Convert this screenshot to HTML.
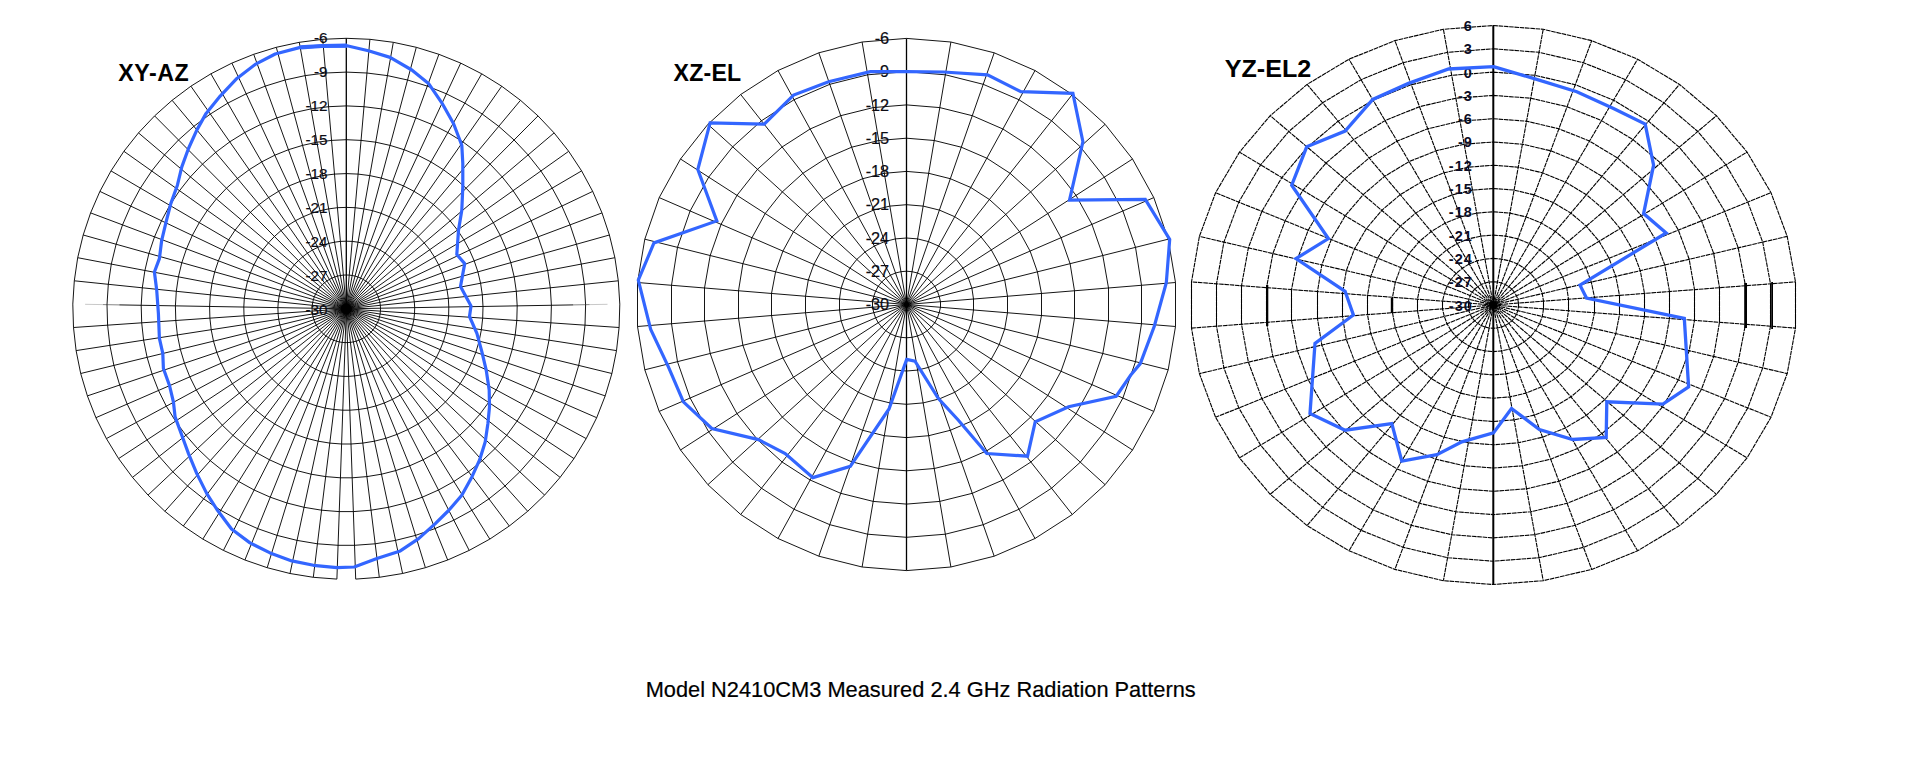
<!DOCTYPE html>
<html lang="en">
<head>
<meta charset="utf-8">
<title>Model N2410CM3 Measured 2.4 GHz Radiation Patterns</title>
<style>
html,body{margin:0;padding:0;background:#fff;}
body{width:1914px;height:773px;overflow:hidden;}
svg{display:block;}
svg text{font-family:"Liberation Sans",sans-serif;}
</style>
</head>
<body>
<svg width="1914" height="773" viewBox="0 0 1914 773">
<rect width="1914" height="773" fill="#fff"/>
<path d="M346.3 308.8L369.9 39.3M346.3 308.8L393.3 42.3M346.3 308.8L416.3 47.3M346.3 308.8L438.9 54.3M346.3 308.8L460.7 63.1M346.3 308.8L481.7 73.8M346.3 308.8L501.7 86.2M346.3 308.8L520.5 100.3M346.3 308.8L538 115.9M346.3 308.8L554.1 132.9M346.3 308.8L568.7 151.3M346.3 308.8L581.6 170.9M346.3 308.8L592.7 191.4M346.3 308.8L602 212.9M346.3 308.8L609.4 235M346.3 308.8L614.9 257.7M346.3 308.8L618.3 280.8M346.3 308.8L619.1 327.5M346.3 308.8L616.5 350.6M346.3 308.8L611.9 373.5M346.3 308.8L605.2 395.9M346.3 308.8L596.7 417.7M346.3 308.8L586.2 438.6M346.3 308.8L574 458.6M346.3 308.8L560.1 477.4M346.3 308.8L544.6 495.1M346.3 308.8L527.7 511.3M346.3 308.8L509.3 526M346.3 308.8L489.8 539.1M346.3 308.8L469.2 550.4M346.3 308.8L447.7 560M346.3 308.8L425.4 567.7M346.3 308.8L402.6 573.5M346.3 308.8L379.3 577.3M346.3 308.8L355.7 579.1M346.3 308.8L336.9 579.1M346.3 308.8L313.3 577.3M346.3 308.8L290 573.5M346.3 308.8L267.2 567.7M346.3 308.8L244.9 560M346.3 308.8L223.4 550.4M346.3 308.8L202.8 539.1M346.3 308.8L183.3 526M346.3 308.8L164.9 511.3M346.3 308.8L148 495.1M346.3 308.8L132.5 477.4M346.3 308.8L118.6 458.6M346.3 308.8L106.4 438.6M346.3 308.8L95.9 417.7M346.3 308.8L87.4 395.9M346.3 308.8L80.7 373.5M346.3 308.8L76.1 350.6M346.3 308.8L73.5 327.5M346.3 308.8L74.3 280.8M346.3 308.8L77.7 257.7M346.3 308.8L83.2 235M346.3 308.8L90.6 212.9M346.3 308.8L99.9 191.4M346.3 308.8L111 170.9M346.3 308.8L123.9 151.3M346.3 308.8L138.5 132.9M346.3 308.8L154.6 115.9M346.3 308.8L172.1 100.3M346.3 308.8L190.9 86.2M346.3 308.8L210.9 73.8M346.3 308.8L231.9 63.1M346.3 308.8L253.7 54.3M346.3 308.8L276.3 47.3M346.3 308.8L299.3 42.3M346.3 308.8L322.7 39.3" stroke="#000" stroke-width="0.92" fill="none"/>
<path d="M346.3 308.8L573.3 304.9" stroke="#000" stroke-width="0.92"/>
<path d="M573.3 304.9L589.7 304.6" stroke="#666" stroke-width="0.8"/>
<path d="M589.7 304.6L607.5 304.3" stroke="#b0b0b0" stroke-width="0.7"/>
<path d="M346.3 308.8L119.3 304.9" stroke="#000" stroke-width="0.92"/>
<path d="M119.3 304.9L102.9 304.6" stroke="#666" stroke-width="0.8"/>
<path d="M102.9 304.6L85.1 304.3" stroke="#b0b0b0" stroke-width="0.7"/>
<path d="M346.3 275L349.2 275.1L352.2 275.5L355.1 276.1L357.9 277L360.6 278.1L363.2 279.4L365.7 281L368.1 282.7L370.3 284.7L372.3 286.8L374.1 289.1L375.7 291.6L377.1 294.1L378.3 296.8L379.2 299.6L379.9 302.4L380.3 305.3L380.5 308.2L380.4 311.1L380.1 314L379.5 316.9L378.7 319.7L377.6 322.4L376.3 325L374.8 327.5L373 329.9L371.1 332.1L369 334.1L366.7 335.9L364.2 337.6L361.7 339L359 340.2L356.2 341.2L353.3 341.9L350.4 342.4L347.5 342.6L345.1 342.6L342.2 342.4L339.3 341.9L336.4 341.2L333.6 340.2L330.9 339L328.4 337.6L325.9 335.9L323.6 334.1L321.5 332.1L319.6 329.9L317.8 327.5L316.3 325L315 322.4L313.9 319.7L313.1 316.9L312.5 314L312.2 311.1L312.1 308.2L312.3 305.3L312.7 302.4L313.4 299.6L314.3 296.8L315.5 294.1L316.9 291.6L318.5 289.1L320.3 286.8L322.3 284.7L324.5 282.7L326.9 281L329.4 279.4L332 278.1L334.7 277L337.5 276.1L340.4 275.5L343.4 275.1ZM346.3 241.2L352.2 241.4L358 242.2L363.8 243.4L369.4 245.2L374.9 247.4L380.1 250L385.1 253.1L389.8 256.7L394.2 260.6L398.3 264.8L401.9 269.4L405.1 274.3L407.9 279.5L410.2 284.8L412.1 290.4L413.4 296L414.3 301.8L414.7 307.6L414.5 313.5L413.9 319.3L412.7 325L411 330.6L408.9 336L406.3 341.3L403.2 346.2L399.8 351L395.9 355.4L391.6 359.4L387.1 363.1L382.2 366.4L377 369.2L371.6 371.6L366.1 373.5L360.4 375L354.5 375.9L348.7 376.4L343.9 376.4L338.1 375.9L332.2 375L326.5 373.5L321 371.6L315.6 369.2L310.4 366.4L305.5 363.1L301 359.4L296.7 355.4L292.8 351L289.4 346.2L286.3 341.3L283.7 336L281.6 330.6L279.9 325L278.7 319.3L278.1 313.5L277.9 307.6L278.3 301.8L279.2 296L280.5 290.4L282.4 284.8L284.7 279.5L287.5 274.3L290.7 269.4L294.3 264.8L298.4 260.6L302.8 256.7L307.5 253.1L312.5 250L317.7 247.4L323.2 245.2L328.8 243.4L334.6 242.2L340.4 241.4ZM346.3 207.4L355.1 207.7L363.9 208.9L372.6 210.7L381 213.3L389.2 216.7L397.1 220.7L404.6 225.3L411.6 230.6L418.2 236.5L424.2 242.9L429.7 249.7L434.5 257.1L438.7 264.8L442.2 272.8L445 281.1L447 289.7L448.3 298.3L448.8 307L448.6 315.8L447.6 324.5L445.9 333.1L443.4 341.5L440.2 349.6L436.3 357.5L431.7 365L426.5 372L420.7 378.6L414.3 384.7L407.4 390.2L400.1 395.2L392.4 399.4L384.3 403L376 405.9L367.4 408.1L358.7 409.5L349.8 410.2L342.8 410.2L333.9 409.5L325.2 408.1L316.6 405.9L308.3 403L300.2 399.4L292.5 395.2L285.2 390.2L278.3 384.7L271.9 378.6L266.1 372L260.9 365L256.3 357.5L252.4 349.6L249.2 341.5L246.7 333.1L245 324.5L244 315.8L243.8 307L244.3 298.3L245.6 289.7L247.6 281.1L250.4 272.8L253.9 264.8L258.1 257.1L262.9 249.7L268.4 242.9L274.4 236.5L281 230.6L288 225.3L295.5 220.7L303.4 216.7L311.6 213.3L320 210.7L328.7 208.9L337.5 207.7ZM346.3 173.6L358.1 174.1L369.8 175.6L381.3 178.1L392.6 181.5L403.5 185.9L414 191.3L424 197.5L433.4 204.5L442.2 212.3L450.2 220.9L457.5 230.1L463.9 239.8L469.5 250.1L474.2 260.8L477.9 271.9L480.6 283.3L482.3 294.8L483 306.5L482.7 318.1L481.4 329.7L479.1 341.2L475.8 352.4L471.5 363.2L466.3 373.7L460.2 383.7L453.2 393.1L445.5 401.9L437 410L427.8 417.4L418.1 423.9L407.8 429.6L397 434.4L385.9 438.3L374.4 441.2L362.8 443.1L351 444L341.6 444L329.8 443.1L318.2 441.2L306.7 438.3L295.6 434.4L284.8 429.6L274.5 423.9L264.8 417.4L255.6 410L247.1 401.9L239.4 393.1L232.4 383.7L226.3 373.7L221.1 363.2L216.8 352.4L213.5 341.2L211.2 329.7L209.9 318.1L209.6 306.5L210.3 294.8L212 283.3L214.7 271.9L218.4 260.8L223.1 250.1L228.7 239.8L235.1 230.1L242.4 220.9L250.4 212.3L259.2 204.5L268.6 197.5L278.6 191.3L289.1 185.9L300 181.5L311.3 178.1L322.8 175.6L334.5 174.1ZM346.3 139.7L361 140.4L375.7 142.2L390.1 145.4L404.1 149.7L417.8 155.2L430.9 161.9L443.4 169.7L455.2 178.5L466.1 188.2L476.2 198.9L485.3 210.4L493.3 222.6L500.3 235.4L506.1 248.8L510.8 262.7L514.2 276.9L516.3 291.3L517.2 305.9L516.8 320.5L515.2 335L512.3 349.3L508.1 363.3L502.8 376.8L496.3 389.9L488.6 402.4L479.9 414.2L470.3 425.2L459.7 435.3L448.2 444.5L436 452.7L423.1 459.8L409.7 465.8L395.7 470.6L381.5 474.2L366.9 476.6L352.2 477.8L340.4 477.8L325.7 476.6L311.1 474.2L296.9 470.6L282.9 465.8L269.5 459.8L256.6 452.7L244.4 444.5L232.9 435.3L222.3 425.2L212.7 414.2L204 402.4L196.3 389.9L189.8 376.8L184.5 363.3L180.3 349.3L177.4 335L175.8 320.5L175.4 305.9L176.3 291.3L178.4 276.9L181.8 262.7L186.5 248.8L192.3 235.4L199.3 222.6L207.3 210.4L216.4 198.9L226.5 188.2L237.4 178.5L249.2 169.7L261.7 161.9L274.8 155.2L288.5 149.7L302.5 145.4L316.9 142.2L331.6 140.4ZM346.3 105.9L364 106.7L381.5 108.9L398.8 112.7L415.7 117.9L432.1 124.5L447.8 132.5L462.8 141.8L476.9 152.4L490.1 164.1L502.2 176.9L513.1 190.7L522.8 205.3L531.1 220.8L538.1 236.9L543.7 253.5L547.7 270.5L550.3 287.8L551.4 305.3L550.9 322.8L549 340.2L545.5 357.3L540.5 374.1L534.1 390.5L526.3 406.2L517.1 421.1L506.7 435.3L495.1 448.5L482.3 460.7L468.6 471.7L453.9 481.5L438.5 490L422.3 497.2L405.6 503L388.5 507.3L371 510.2L353.4 511.6L339.2 511.6L321.6 510.2L304.1 507.3L287 503L270.3 497.2L254.1 490L238.7 481.5L224 471.7L210.3 460.7L197.5 448.5L185.9 435.3L175.5 421.1L166.3 406.2L158.5 390.5L152.1 374.1L147.1 357.3L143.6 340.2L141.7 322.8L141.2 305.3L142.3 287.8L144.9 270.5L148.9 253.5L154.5 236.9L161.5 220.8L169.8 205.3L179.5 190.7L190.4 176.9L202.5 164.1L215.7 152.4L229.8 141.8L244.8 132.5L260.5 124.5L276.9 117.9L293.8 112.7L311.1 108.9L328.6 106.7ZM346.3 72.1L366.9 73L387.4 75.6L407.6 80L427.3 86.1L446.4 93.8L464.8 103.1L482.2 114L498.7 126.3L514.1 140L528.1 154.9L540.9 171L552.2 188.1L561.9 206.1L570.1 224.9L576.5 244.3L581.3 264.1L584.3 284.3L585.6 304.7L585 325.1L582.7 345.4L578.7 365.4L572.9 385L565.4 404.1L556.3 422.4L545.6 439.9L533.4 456.4L519.8 471.8L505 486L489 498.8L471.9 510.3L453.8 520.2L435 528.6L415.5 535.4L395.5 540.4L375.2 543.8L354.6 545.3L338 545.3L317.4 543.8L297.1 540.4L277.1 535.4L257.6 528.6L238.8 520.2L220.7 510.3L203.6 498.8L187.6 486L172.8 471.8L159.2 456.4L147 439.9L136.3 422.4L127.2 404.1L119.7 385L113.9 365.4L109.9 345.4L107.6 325.1L107 304.7L108.3 284.3L111.3 264.1L116.1 244.3L122.5 224.9L130.7 206.1L140.4 188.1L151.7 171L164.5 154.9L178.5 140L193.9 126.3L210.4 114L227.8 103.1L246.2 93.8L265.3 86.1L285 80L305.2 75.6L325.7 73ZM336.9 579.1L313.3 577.3L290 573.5L267.2 567.7L244.9 560L223.4 550.4L202.8 539.1L183.3 526L164.9 511.3L148 495.1L132.5 477.4L118.6 458.6L106.4 438.6L95.9 417.7L87.4 395.9L80.7 373.5L76.1 350.6L73.5 327.5L72.8 304.1L74.3 280.8L77.7 257.7L83.2 235L90.6 212.9L99.9 191.4L111 170.9L123.9 151.3L138.5 132.9L154.6 115.9L172.1 100.3L190.9 86.2L210.9 73.8L231.9 63.1L253.7 54.3L276.3 47.3L299.3 42.3L322.7 39.3L346.3 38.3L369.9 39.3L393.3 42.3L416.3 47.3L438.9 54.3L460.7 63.1L481.7 73.8L501.7 86.2L520.5 100.3L538 115.9L554.1 132.9L568.7 151.3L581.6 170.9L592.7 191.4L602 212.9L609.4 235L614.9 257.7L618.3 280.8L619.8 304.1L619.1 327.5L616.5 350.6L611.9 373.5L605.2 395.9L596.7 417.7L586.2 438.6L574 458.6L560.1 477.4L544.6 495.1L527.7 511.3L509.3 526L489.8 539.1L469.2 550.4L447.7 560L425.4 567.7L402.6 573.5L379.3 577.3L355.7 579.1" stroke="#000" stroke-width="0.92" fill="none" stroke-linejoin="round"/>
<path d="M346.3 38.3L346.3 312.8" stroke="#000" stroke-width="1.3"/>
<circle cx="346.3" cy="308.8" r="5.5" fill="#000"/>
<text x="327.6" y="314.7" font-size="15.3" text-anchor="end" fill="#0c0c14" stroke="#0c0c14" stroke-width="0.2">-30</text>
<text x="327.6" y="280.7" font-size="15.3" text-anchor="end" fill="#0c0c14" stroke="#0c0c14" stroke-width="0.2">-27</text>
<text x="327.6" y="246.7" font-size="15.3" text-anchor="end" fill="#0c0c14" stroke="#0c0c14" stroke-width="0.2">-24</text>
<text x="327.6" y="212.8" font-size="15.3" text-anchor="end" fill="#0c0c14" stroke="#0c0c14" stroke-width="0.2">-21</text>
<text x="327.6" y="178.8" font-size="15.3" text-anchor="end" fill="#0c0c14" stroke="#0c0c14" stroke-width="0.2">-18</text>
<text x="327.6" y="144.8" font-size="15.3" text-anchor="end" fill="#0c0c14" stroke="#0c0c14" stroke-width="0.2">-15</text>
<text x="327.6" y="110.9" font-size="15.3" text-anchor="end" fill="#0c0c14" stroke="#0c0c14" stroke-width="0.2">-12</text>
<text x="327.6" y="76.9" font-size="15.3" text-anchor="end" fill="#0c0c14" stroke="#0c0c14" stroke-width="0.2">-9</text>
<text x="327.6" y="42.9" font-size="15.3" text-anchor="end" fill="#0c0c14" stroke="#0c0c14" stroke-width="0.2">-6</text>
<polygon points="347,45.7 368.4,50.7 390.1,57.4 411.8,70 428.5,83.4 441.8,102.8 453.5,123.5 461.8,145.2 462.8,163.5 462.8,186.9 461.8,210.2 458.5,230.3 456.8,254.5 464.7,263.6 460.5,286.5 471,306 469.5,316.5 476.9,333.4 481.9,351.8 486.2,370.1 489.2,390.1 489.5,406.8 487.9,423.5 485.2,441.9 479.5,460.2 471.9,476.9 461.8,495.3 448.6,510.5 435.3,523.6 418.6,538.6 400.3,550.9 376.9,558.6 354.2,567 336.8,567.6 313.5,565.3 291.8,560.9 270.1,552.9 250,542.9 231.5,529 217.5,510.3 206.8,493.6 196.8,473.6 188.5,453.6 181.8,435.2 175.1,416.9 173.4,401.8 169.4,385.2 163.4,368.5 162.8,353.4 159.4,338.4 158.4,313.4 156.7,290 154.4,272 159.4,258.6 161.7,240.3 166.1,221.9 170.8,203.6 177.4,185.2 181.8,166.9 188.5,148.5 196.8,130.1 206.1,113.4 220.2,96.1 236.9,78.4 255.2,64.4 275.2,54 300.3,47.4 322,46" fill="none" stroke="#3366FF" stroke-width="3.2" stroke-linejoin="round"/>
<polyline points="300.3,47.4 322,46 347,45.7" fill="none" stroke="#3366FF" stroke-width="4.2" stroke-linecap="butt" stroke-linejoin="round"/>
<text x="118.2" y="81" font-size="23.2" font-weight="bold" letter-spacing="0.55" fill="#000">XY-AZ</text>
<path d="M906.5 304.5L950.9 42M906.5 304.5L994.2 52.8M906.5 304.5L1035 70.5M906.5 304.5L1072.3 94.5M906.5 304.5L1105.1 124.3M906.5 304.5L1132.5 159M906.5 304.5L1153.8 197.6M906.5 304.5L1168.2 239.2M906.5 304.5L1175.5 282.5M906.5 304.5L1175.5 326.5M906.5 304.5L1168.2 369.8M906.5 304.5L1153.8 411.4M906.5 304.5L1132.5 450M906.5 304.5L1105.1 484.7M906.5 304.5L1072.3 514.5M906.5 304.5L1035 538.5M906.5 304.5L994.2 556.2M906.5 304.5L950.9 567M906.5 304.5L862.1 567M906.5 304.5L818.8 556.2M906.5 304.5L778 538.5M906.5 304.5L740.7 514.5M906.5 304.5L707.9 484.7M906.5 304.5L680.5 450M906.5 304.5L659.2 411.4M906.5 304.5L644.8 369.8M906.5 304.5L637.5 326.5M906.5 304.5L637.5 282.5M906.5 304.5L644.8 239.2M906.5 304.5L659.2 197.6M906.5 304.5L680.5 159M906.5 304.5L707.9 124.3M906.5 304.5L740.7 94.5M906.5 304.5L778 70.5M906.5 304.5L818.8 52.8M906.5 304.5L862.1 42" stroke="#000" stroke-width="0.92" fill="none"/>
<path d="M906.5 271.2L912.1 271.7L917.5 273L922.6 275.2L927.2 278.3L931.3 282L934.8 286.3L937.4 291.1L939.2 296.3L940.5 301.8L940.5 307.2L939.2 312.7L937.4 317.9L934.8 322.7L931.3 327L927.2 330.7L922.6 333.8L917.5 336L912.1 337.3L906.5 337.8L900.9 337.3L895.5 336L890.4 333.8L885.8 330.7L881.7 327L878.2 322.7L875.6 317.9L873.8 312.7L872.5 307.2L872.5 301.8L873.8 296.3L875.6 291.1L878.2 286.3L881.7 282L885.8 278.3L890.4 275.2L895.5 273L900.9 271.7ZM906.5 238L917.6 238.9L928.4 241.6L938.6 246L948 252L956.2 259.4L963 268.1L968.3 277.8L971.9 288.2L973.5 299L973.5 310L971.9 320.8L968.3 331.2L963 340.9L956.2 349.6L948 357L938.6 363L928.4 367.4L917.6 370.1L906.5 371L895.4 370.1L884.6 367.4L874.4 363L865 357L856.8 349.6L850 340.9L844.7 331.2L841.1 320.8L839.5 310L839.5 299L841.1 288.2L844.7 277.8L850 268.1L856.8 259.4L865 252L874.4 246L884.6 241.6L895.4 238.9ZM906.5 204.7L923.2 206.1L939.4 210.1L954.7 216.7L968.7 225.8L981 236.9L991.3 249.9L999.2 264.4L1004.7 280L1007.5 296.3L1007.5 312.7L1004.7 329L999.2 344.6L991.3 359.1L981 372.1L968.7 383.2L954.7 392.3L939.4 398.9L923.2 402.9L906.5 404.3L889.8 402.9L873.6 398.9L858.3 392.3L844.3 383.2L832 372.1L821.7 359.1L813.8 344.6L808.3 329L805.5 312.7L805.5 296.3L808.3 280L813.8 264.4L821.7 249.9L832 236.9L844.3 225.8L858.3 216.7L873.6 210.1L889.8 206.1ZM906.5 171.4L928.7 173.3L950.3 178.7L970.8 187.5L989.4 199.5L1005.8 214.4L1019.5 231.7L1030.1 251.1L1037.4 271.8L1041.5 293.5L1041.5 315.5L1037.4 337.2L1030.1 357.9L1019.5 377.3L1005.8 394.6L989.4 409.5L970.8 421.5L950.3 430.3L928.7 435.7L906.5 437.6L884.3 435.7L862.7 430.3L842.2 421.5L823.6 409.5L807.2 394.6L793.5 377.3L782.9 357.9L775.6 337.2L771.5 315.5L771.5 293.5L775.6 271.8L782.9 251.1L793.5 231.7L807.2 214.4L823.6 199.5L842.2 187.5L862.7 178.7L884.3 173.3ZM906.5 138.2L934.3 140.5L961.3 147.2L986.8 158.2L1010.1 173.3L1030.7 191.9L1047.8 213.5L1061 237.7L1070.1 263.7L1074.5 290.8L1074.5 318.2L1070.1 345.3L1061 371.3L1047.8 395.5L1030.7 417.1L1010.1 435.7L986.8 450.8L961.3 461.8L934.3 468.5L906.5 470.8L878.7 468.5L851.7 461.8L826.2 450.8L802.9 435.7L782.3 417.1L765.2 395.5L752 371.3L742.9 345.3L738.5 318.2L738.5 290.8L742.9 263.7L752 237.7L765.2 213.5L782.3 191.9L802.9 173.3L826.2 158.2L851.7 147.2L878.7 140.5ZM906.5 104.9L939.8 107.6L972.3 115.7L1002.9 129L1030.9 147L1055.5 169.3L1076 195.3L1091.9 224.3L1102.8 255.5L1108.5 288L1108.5 321L1102.8 353.5L1091.9 384.7L1076 413.7L1055.5 439.7L1030.9 462L1002.9 480L972.3 493.3L939.8 501.4L906.5 504.1L873.2 501.4L840.7 493.3L810.1 480L782.1 462L757.5 439.7L737 413.7L721.1 384.7L710.2 353.5L704.5 321L704.5 288L710.2 255.5L721.1 224.3L737 195.3L757.5 169.3L782.1 147L810.1 129L840.7 115.7L873.2 107.6ZM906.5 71.7L945.4 74.8L983.2 84.3L1018.9 99.7L1051.6 120.8L1080.3 146.8L1104.3 177.1L1122.9 211L1135.5 247.3L1141.5 285.3L1141.5 323.7L1135.5 361.7L1122.9 398L1104.3 431.9L1080.3 462.2L1051.6 488.2L1018.9 509.3L983.2 524.7L945.4 534.2L906.5 537.3L867.6 534.2L829.8 524.7L794.1 509.3L761.4 488.2L732.7 462.2L708.7 431.9L690.1 398L677.5 361.7L671.5 323.7L671.5 285.3L677.5 247.3L690.1 211L708.7 177.1L732.7 146.8L761.4 120.8L794.1 99.7L829.8 84.3L867.6 74.8ZM906.5 38.4L950.9 42L994.2 52.8L1035 70.5L1072.3 94.5L1105.1 124.3L1132.5 159L1153.8 197.6L1168.2 239.2L1175.5 282.5L1175.5 326.5L1168.2 369.8L1153.8 411.4L1132.5 450L1105.1 484.7L1072.3 514.5L1035 538.5L994.2 556.2L950.9 567L906.5 570.6L862.1 567L818.8 556.2L778 538.5L740.7 514.5L707.9 484.7L680.5 450L659.2 411.4L644.8 369.8L637.5 326.5L637.5 282.5L644.8 239.2L659.2 197.6L680.5 159L707.9 124.3L740.7 94.5L778 70.5L818.8 52.8L862.1 42Z" stroke="#000" stroke-width="0.92" fill="none" stroke-linejoin="round"/>
<path d="M906.5 38.4L906.5 570.6" stroke="#000" stroke-width="1.3"/>
<circle cx="906.5" cy="304.5" r="2.6" fill="#000"/>
<text x="889.2" y="310" font-size="16.3" text-anchor="end" fill="#0c0c14" stroke="#0c0c14" stroke-width="0.2">-30</text>
<text x="889.2" y="276.8" font-size="16.3" text-anchor="end" fill="#0c0c14" stroke="#0c0c14" stroke-width="0.2">-27</text>
<text x="889.2" y="243.5" font-size="16.3" text-anchor="end" fill="#0c0c14" stroke="#0c0c14" stroke-width="0.2">-24</text>
<text x="889.2" y="210.2" font-size="16.3" text-anchor="end" fill="#0c0c14" stroke="#0c0c14" stroke-width="0.2">-21</text>
<text x="889.2" y="177" font-size="16.3" text-anchor="end" fill="#0c0c14" stroke="#0c0c14" stroke-width="0.2">-18</text>
<text x="889.2" y="143.7" font-size="16.3" text-anchor="end" fill="#0c0c14" stroke="#0c0c14" stroke-width="0.2">-15</text>
<text x="889.2" y="110.5" font-size="16.3" text-anchor="end" fill="#0c0c14" stroke="#0c0c14" stroke-width="0.2">-12</text>
<text x="889.2" y="77.2" font-size="16.3" text-anchor="end" fill="#0c0c14" stroke="#0c0c14" stroke-width="0.2">-9</text>
<text x="889.2" y="43.9" font-size="16.3" text-anchor="end" fill="#0c0c14" stroke="#0c0c14" stroke-width="0.2">-6</text>
<polygon points="906.7,71.7 943.4,72 987.5,74.8 1020.9,91.7 1072.9,93.4 1082.9,141.8 1069.5,200.1 1145.3,199.4 1169.7,239.5 1166.3,282.8 1154.3,326.2 1140.3,363.6 1130.8,375 1116.2,396.2 1068.6,406.8 1035.2,421.8 1027.5,456.2 986.8,453.5 958.4,420.2 938.4,398.5 915,361.1 906.7,359.4 889,409 850.3,466.3 812.9,477.6 785.2,453.6 758.5,439.6 711.8,428.5 683.4,401.8 668.4,366.8 650.7,329.4 638.3,280.2 654,242.9 716.8,220.9 697.8,169.5 710.1,122.8 764.2,124.1 793.6,95.1 828.6,81.7 870.3,71.7" fill="none" stroke="#3366FF" stroke-width="3.2" stroke-linejoin="miter"/>
<text x="673.6" y="81" font-size="23.1" font-weight="bold" letter-spacing="0.2" fill="#000">XZ-EL</text>
<g stroke="#000" stroke-width="1.1" fill="none" stroke-dasharray="4.6 0.7">
<path d="M1493.3 305L1543.2 29.3" stroke-dashoffset="0"/>
<path d="M1493.3 305L1591.7 40.6" stroke-dashoffset="1.4"/>
<path d="M1493.3 305L1637.6 59.2" stroke-dashoffset="2.7"/>
<path d="M1493.3 305L1679.5 84.4" stroke-dashoffset="4.1"/>
<path d="M1493.3 305L1716.4 115.7" stroke-dashoffset="0.2"/>
<path d="M1493.3 305L1747.1 152.1" stroke-dashoffset="1.6"/>
<path d="M1493.3 305L1771 192.7" stroke-dashoffset="2.9"/>
<path d="M1493.3 305L1787.2 236.4" stroke-dashoffset="4.3"/>
<path d="M1493.3 305L1795.5 281.9" stroke-dashoffset="0.4"/>
<path d="M1493.3 305L1795.5 328.1" stroke-dashoffset="1.7"/>
<path d="M1493.3 305L1787.2 373.6" stroke-dashoffset="3.1"/>
<path d="M1493.3 305L1771 417.3" stroke-dashoffset="4.5"/>
<path d="M1493.3 305L1747.1 457.9" stroke-dashoffset="0.5"/>
<path d="M1493.3 305L1716.4 494.3" stroke-dashoffset="1.9"/>
<path d="M1493.3 305L1679.5 525.6" stroke-dashoffset="3.3"/>
<path d="M1493.3 305L1637.6 550.8" stroke-dashoffset="4.7"/>
<path d="M1493.3 305L1591.7 569.4" stroke-dashoffset="0.7"/>
<path d="M1493.3 305L1543.2 580.7" stroke-dashoffset="2.1"/>
<path d="M1493.3 305L1443.4 580.7" stroke-dashoffset="3.5"/>
<path d="M1493.3 305L1394.9 569.4" stroke-dashoffset="4.8"/>
<path d="M1493.3 305L1349 550.8" stroke-dashoffset="0.9"/>
<path d="M1493.3 305L1307.1 525.6" stroke-dashoffset="2.3"/>
<path d="M1493.3 305L1270.2 494.3" stroke-dashoffset="3.6"/>
<path d="M1493.3 305L1239.5 457.9" stroke-dashoffset="5"/>
<path d="M1493.3 305L1215.6 417.3" stroke-dashoffset="1.1"/>
<path d="M1493.3 305L1199.4 373.6" stroke-dashoffset="2.5"/>
<path d="M1493.3 305L1191.5 328.1" stroke-dashoffset="3.8"/>
<path d="M1493.3 305L1191.5 281.9" stroke-dashoffset="5.2"/>
<path d="M1493.3 305L1199.4 236.4" stroke-dashoffset="1.3"/>
<path d="M1493.3 305L1215.6 192.7" stroke-dashoffset="2.6"/>
<path d="M1493.3 305L1239.5 152.1" stroke-dashoffset="4"/>
<path d="M1493.3 305L1270.2 115.7" stroke-dashoffset="0.1"/>
<path d="M1493.3 305L1307.1 84.4" stroke-dashoffset="1.4"/>
<path d="M1493.3 305L1349 59.2" stroke-dashoffset="2.8"/>
<path d="M1493.3 305L1394.9 40.6" stroke-dashoffset="4.2"/>
<path d="M1493.3 305L1443.4 29.3" stroke-dashoffset="0.3"/>
</g>
<path d="M1493.3 281.7L1497.5 282L1501.5 283L1505.3 284.5L1508.8 286.6L1511.9 289.2L1514.5 292.3L1516.4 295.6L1517.8 299.3L1518.5 303.1L1518.5 306.9L1517.8 310.7L1516.4 314.4L1514.5 317.7L1511.9 320.8L1508.8 323.4L1505.3 325.5L1501.5 327L1497.5 328L1493.3 328.3L1489.1 328L1485.1 327L1481.3 325.5L1477.8 323.4L1474.7 320.8L1472.1 317.7L1470.2 314.4L1468.8 310.7L1468.5 306.9L1468.5 303.1L1468.8 299.3L1470.2 295.6L1472.1 292.3L1474.7 289.2L1477.8 286.6L1481.3 284.5L1485.1 283L1489.1 282ZM1493.3 258.4L1501.6 259.1L1509.7 260.9L1517.4 264L1524.3 268.2L1530.5 273.4L1535.6 279.5L1539.6 286.3L1542.3 293.6L1543.5 301.2L1543.5 308.8L1542.3 316.4L1539.6 323.7L1535.6 330.5L1530.5 336.6L1524.3 341.8L1517.4 346L1509.7 349.1L1501.6 350.9L1493.3 351.6L1485 350.9L1476.9 349.1L1469.2 346L1462.3 341.8L1456.1 336.6L1451 330.5L1447 323.7L1444.3 316.4L1442.5 308.8L1442.5 301.2L1444.3 293.6L1447 286.3L1451 279.5L1456.1 273.4L1462.3 268.2L1469.2 264L1476.9 260.9L1485 259.1ZM1493.3 235.1L1505.8 236.1L1517.9 238.9L1529.4 243.5L1539.9 249.9L1549.1 257.7L1556.8 266.8L1562.7 276.9L1566.8 287.8L1568.5 299.2L1568.5 310.8L1566.8 322.2L1562.7 333.1L1556.8 343.2L1549.1 352.3L1539.9 360.1L1529.4 366.5L1517.9 371.1L1505.8 373.9L1493.3 374.9L1480.8 373.9L1468.7 371.1L1457.2 366.5L1446.7 360.1L1437.5 352.3L1429.8 343.2L1423.9 333.1L1419.8 322.2L1417.5 310.8L1417.5 299.2L1419.8 287.8L1423.9 276.9L1429.8 266.8L1437.5 257.7L1446.7 249.9L1457.2 243.5L1468.7 238.9L1480.8 236.1ZM1493.3 211.8L1509.9 213.1L1526.1 216.9L1541.4 223.1L1555.4 231.5L1567.7 241.9L1577.9 254L1585.9 267.6L1591.3 282.1L1594.5 297.3L1594.5 312.7L1591.3 327.9L1585.9 342.4L1577.9 356L1567.7 368.1L1555.4 378.5L1541.4 386.9L1526.1 393.1L1509.9 396.9L1493.3 398.2L1476.7 396.9L1460.5 393.1L1445.2 386.9L1431.2 378.5L1418.9 368.1L1408.7 356L1400.7 342.4L1395.3 327.9L1392.5 312.7L1392.5 297.3L1395.3 282.1L1400.7 267.6L1408.7 254L1418.9 241.9L1431.2 231.5L1445.2 223.1L1460.5 216.9L1476.7 213.1ZM1493.3 188.5L1514.1 190.1L1534.3 194.9L1553.4 202.6L1570.9 213.1L1586.2 226.1L1599.1 241.3L1609 258.2L1615.8 276.4L1619.5 295.4L1619.5 314.6L1615.8 333.6L1609 351.8L1599.1 368.7L1586.2 383.9L1570.9 396.9L1553.4 407.4L1534.3 415.1L1514.1 419.9L1493.3 421.5L1472.5 419.9L1452.3 415.1L1433.2 407.4L1415.7 396.9L1400.4 383.9L1387.5 368.7L1377.6 351.8L1370.8 333.6L1367.5 314.6L1367.5 295.4L1370.8 276.4L1377.6 258.2L1387.5 241.3L1400.4 226.1L1415.7 213.1L1433.2 202.6L1452.3 194.9L1472.5 190.1ZM1493.3 165.2L1518.3 167.2L1542.5 172.8L1565.5 182.1L1586.4 194.7L1604.8 210.3L1620.2 228.6L1632.1 248.9L1640.3 270.7L1644.5 293.5L1644.5 316.5L1640.3 339.3L1632.1 361.1L1620.2 381.4L1604.8 399.7L1586.4 415.3L1565.5 427.9L1542.5 437.2L1518.3 442.8L1493.3 444.8L1468.3 442.8L1444.1 437.2L1421.1 427.9L1400.2 415.3L1381.8 399.7L1366.4 381.4L1354.5 361.1L1346.3 339.3L1342.5 316.5L1342.5 293.5L1346.3 270.7L1354.5 248.9L1366.4 228.6L1381.8 210.3L1400.2 194.7L1421.1 182.1L1444.1 172.8L1468.3 167.2ZM1493.3 142L1522.4 144.2L1550.7 150.8L1577.5 161.6L1601.9 176.3L1623.4 194.6L1641.4 215.8L1655.3 239.5L1664.8 265L1669.5 291.5L1669.5 318.5L1664.8 345L1655.3 370.5L1641.4 394.2L1623.4 415.4L1601.9 433.7L1577.5 448.4L1550.7 459.2L1522.4 465.8L1493.3 468L1464.2 465.8L1435.9 459.2L1409.1 448.4L1384.7 433.7L1363.2 415.4L1345.2 394.2L1331.3 370.5L1321.8 345L1317.5 318.5L1317.5 291.5L1321.8 265L1331.3 239.5L1345.2 215.8L1363.2 194.6L1384.7 176.3L1409.1 161.6L1435.9 150.8L1464.2 144.2ZM1493.3 118.7L1526.6 121.2L1558.9 128.8L1589.5 141.1L1617.5 158L1642 178.8L1662.5 203.1L1678.4 230.2L1689.2 259.3L1694.5 289.6L1694.5 320.4L1689.2 350.7L1678.4 379.8L1662.5 406.9L1642 431.2L1617.5 452L1589.5 468.9L1558.9 481.2L1526.6 488.8L1493.3 491.3L1460 488.8L1427.7 481.2L1397.1 468.9L1369.1 452L1344.6 431.2L1324.1 406.9L1308.2 379.8L1297.4 350.7L1291.5 320.4L1291.5 289.6L1297.4 259.3L1308.2 230.2L1324.1 203.1L1344.6 178.8L1369.1 158L1397.1 141.1L1427.7 128.8L1460 121.2ZM1493.3 95.4L1530.7 98.2L1567.1 106.7L1601.5 120.6L1633 139.6L1660.6 163L1683.7 190.3L1701.5 220.8L1713.7 253.5L1719.5 287.7L1719.5 322.3L1713.7 356.5L1701.5 389.2L1683.7 419.7L1660.6 447L1633 470.4L1601.5 489.4L1567.1 503.3L1530.7 511.8L1493.3 514.6L1455.9 511.8L1419.5 503.3L1385.1 489.4L1353.6 470.4L1326 447L1302.9 419.7L1285.1 389.2L1272.9 356.5L1266.5 322.3L1266.5 287.7L1272.9 253.5L1285.1 220.8L1302.9 190.3L1326 163L1353.6 139.6L1385.1 120.6L1419.5 106.7L1455.9 98.2ZM1493.3 72.1L1534.9 75.3L1575.3 84.7L1613.6 100.2L1648.5 121.2L1679.2 147.2L1704.8 177.6L1724.7 211.4L1738.2 247.8L1745.5 285.8L1745.5 324.2L1738.2 362.2L1724.7 398.6L1704.8 432.4L1679.2 462.8L1648.5 488.8L1613.6 509.8L1575.3 525.3L1534.9 534.7L1493.3 537.9L1451.7 534.7L1411.3 525.3L1373 509.8L1338.1 488.8L1307.4 462.8L1281.8 432.4L1261.9 398.6L1248.4 362.2L1241.5 324.2L1241.5 285.8L1248.4 247.8L1261.9 211.4L1281.8 177.6L1307.4 147.2L1338.1 121.2L1373 100.2L1411.3 84.7L1451.7 75.3ZM1493.3 48.8L1539 52.3L1583.5 62.7L1625.6 79.7L1664 102.8L1697.8 131.5L1726 164.9L1747.8 202.1L1762.7 242.1L1770.5 283.8L1770.5 326.2L1762.7 367.9L1747.8 407.9L1726 445.1L1697.8 478.5L1664 507.2L1625.6 530.3L1583.5 547.3L1539 557.7L1493.3 561.2L1447.6 557.7L1403.1 547.3L1361 530.3L1322.6 507.2L1288.8 478.5L1260.6 445.1L1238.8 407.9L1223.9 367.9L1216.5 326.2L1216.5 283.8L1223.9 242.1L1238.8 202.1L1260.6 164.9L1288.8 131.5L1322.6 102.8L1361 79.7L1403.1 62.7L1447.6 52.3ZM1493.3 25.5L1543.2 29.3L1591.7 40.6L1637.6 59.2L1679.5 84.4L1716.4 115.7L1747.1 152.1L1771 192.7L1787.2 236.4L1795.5 281.9L1795.5 328.1L1787.2 373.6L1771 417.3L1747.1 457.9L1716.4 494.3L1679.5 525.6L1637.6 550.8L1591.7 569.4L1543.2 580.7L1493.3 584.5L1443.4 580.7L1394.9 569.4L1349 550.8L1307.1 525.6L1270.2 494.3L1239.5 457.9L1215.6 417.3L1199.4 373.6L1191.5 328.1L1191.5 281.9L1199.4 236.4L1215.6 192.7L1239.5 152.1L1270.2 115.7L1307.1 84.4L1349 59.2L1394.9 40.6L1443.4 29.3Z" stroke="#000" stroke-width="1.1" fill="none" stroke-linejoin="round" stroke-dasharray="4.6 0.7"/>
<path d="M1493.3 25.5L1493.3 584.5" stroke="#000" stroke-width="2.0"/>
<path d="M1518.5 303.1L1518.5 306.9M1468.5 306.9L1468.5 303.1M1543.5 301.2L1543.5 308.8M1442.5 308.8L1442.5 301.2M1568.5 299.2L1568.5 310.8M1417.5 310.8L1417.5 299.2M1594.5 297.3L1594.5 312.7M1392.5 312.7L1392.5 297.3M1619.5 295.4L1619.5 314.6M1367.5 314.6L1367.5 295.4M1644.5 293.5L1644.5 316.5M1342.5 316.5L1342.5 293.5M1669.5 291.5L1669.5 318.5M1317.5 318.5L1317.5 291.5M1694.5 289.6L1694.5 320.4M1291.5 320.4L1291.5 289.6M1719.5 287.7L1719.5 322.3M1266.5 322.3L1266.5 287.7M1745.5 285.8L1745.5 324.2M1241.5 324.2L1241.5 285.8M1770.5 283.8L1770.5 326.2M1216.5 326.2L1216.5 283.8M1795.5 281.9L1795.5 328.1M1191.5 328.1L1191.5 281.9" stroke="#000" stroke-width="1" fill="none"/>
<circle cx="1493.3" cy="305" r="4" fill="#000"/>
<path d="M1267.2 285L1267.2 326" stroke="#000" stroke-width="2.2"/>
<path d="M1745.6 283L1745.6 328" stroke="#000" stroke-width="2.8"/>
<path d="M1772.1 282L1772.1 329" stroke="#000" stroke-width="1.8"/>
<path d="M1392 298L1392 313" stroke="#000" stroke-width="2.4"/>
<text x="1473" y="310.5" font-size="14.5" font-weight="bold" letter-spacing="1.1" text-anchor="end" fill="#0c0c24">-30</text>
<text x="1473" y="287.2" font-size="14.5" font-weight="bold" letter-spacing="1.1" text-anchor="end" fill="#0c0c24">-27</text>
<text x="1473" y="263.9" font-size="14.5" font-weight="bold" letter-spacing="1.1" text-anchor="end" fill="#0c0c24">-24</text>
<text x="1473" y="240.6" font-size="14.5" font-weight="bold" letter-spacing="1.1" text-anchor="end" fill="#0c0c24">-21</text>
<text x="1473" y="217.3" font-size="14.5" font-weight="bold" letter-spacing="1.1" text-anchor="end" fill="#0c0c24">-18</text>
<text x="1473" y="194" font-size="14.5" font-weight="bold" letter-spacing="1.1" text-anchor="end" fill="#0c0c24">-15</text>
<text x="1473" y="170.7" font-size="14.5" font-weight="bold" letter-spacing="1.1" text-anchor="end" fill="#0c0c24">-12</text>
<text x="1473" y="147.4" font-size="14.5" font-weight="bold" letter-spacing="1.1" text-anchor="end" fill="#0c0c24">-9</text>
<text x="1473" y="124.2" font-size="14.5" font-weight="bold" letter-spacing="1.1" text-anchor="end" fill="#0c0c24">-6</text>
<text x="1473" y="100.9" font-size="14.5" font-weight="bold" letter-spacing="1.1" text-anchor="end" fill="#0c0c24">-3</text>
<text x="1473" y="77.6" font-size="14.5" font-weight="bold" letter-spacing="1.1" text-anchor="end" fill="#0c0c24">0</text>
<text x="1473" y="54.3" font-size="14.5" font-weight="bold" letter-spacing="1.1" text-anchor="end" fill="#0c0c24">3</text>
<text x="1473" y="31" font-size="14.5" font-weight="bold" letter-spacing="1.1" text-anchor="end" fill="#0c0c24">6</text>
<polygon points="1493.5,66.7 1533.4,78.4 1576.8,91.7 1613.5,108.4 1645.2,124.1 1653.6,165.2 1643.6,213.6 1666.2,232.9 1580,285.2 1586.5,298 1684.3,318.4 1688.6,386.8 1662.9,404.2 1606.8,401.8 1606.2,437.5 1572.8,439.5 1539.4,429.5 1511.5,408.5 1493.5,432.9 1461.9,441.9 1436.9,454.6 1401.8,461.2 1391.8,423.5 1345.1,430.2 1310,413.5 1315,343.4 1353.4,315 1345.1,291.3 1296,258.6 1328.4,238.6 1291.7,185.2 1306.7,146.8 1345.1,131.1 1372.8,99.4 1408.5,83.4 1448.6,69" fill="none" stroke="#3366FF" stroke-width="3.3" stroke-linejoin="miter"/>
<text transform="translate(1224.7,76.8) scale(1.078,1)" x="0" y="0" font-size="23.3" font-weight="bold" fill="#000">YZ-EL2</text>
<text x="645.7" y="696.8" font-size="21.8" fill="#000" stroke="#000" stroke-width="0.2" id="cap">Model N2410CM3 Measured 2.4 GHz Radiation Patterns</text>
</svg>
</body>
</html>
